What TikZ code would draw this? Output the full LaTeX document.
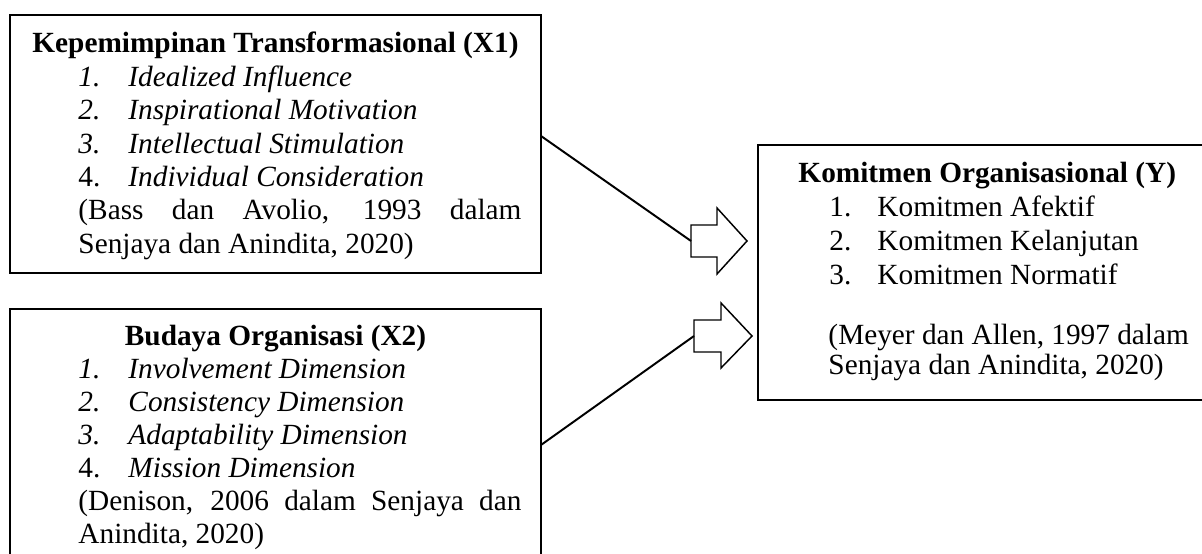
\documentclass[tikz,border=0pt]{standalone}
\usepackage{fontspec}
\setmainfont{Liberation Serif}
\usetikzlibrary{fit}
\begin{document}
\begin{tikzpicture}[x=0.4096pt,y=-0.4096pt,
  boxst/.style={draw, line width=0.8pt, inner sep=0pt},
  txt/.style={inner sep=0pt, anchor=base west, font=\fontsize{12}{13.8}\selectfont},
  ttl/.style={inner sep=0pt, anchor=base, font=\fontsize{12}{13.8}\selectfont\bfseries},
  conn/.style={line width=0.8pt},
  barrow/.style={draw, line width=0.6pt, fill=white, line join=miter}]
\useasboundingbox (0,0) rectangle (1202,554);

% boxes
\node[boxst, fit={(10,15) (541,273)}] (b1) {};
\node[boxst, fit={(10,309) (541,600)}] (b2) {};
\node[boxst, fit={(758,145) (1230,400)}] (b3) {};

% box 1 text
\node[ttl] (t1h) at (275.5,53) {Kepemimpinan Transformasional (X1)};
\node[txt] (n11) at (78,86.4) {\textit{1.}};
\node[txt] (i11) at (128,86.4) {\textit{Idealized Influence}};
\node[txt] (n12) at (78,119.8) {\textit{2.}};
\node[txt] (i12) at (128,119.8) {\textit{Inspirational Motivation}};
\node[txt] (n13) at (78,153.2) {\textit{3.}};
\node[txt] (i13) at (128,153.2) {\textit{Intellectual Stimulation}};
\node[txt] (n14) at (78,186.6) {4.};
\node[txt] (i14) at (128,186.6) {\textit{Individual Consideration}};
\node[txt] (r11) at (78,220) {\makebox[181.45pt][s]{(Bass dan Avolio, 1993 dalam}};
\node[txt] (r12) at (78,253.4) {Senjaya dan Anindita, 2020)};

% box 2 text
\node[ttl] (t2h) at (275.5,346) {Budaya Organisasi (X2)};
\node[txt] (n21) at (78,379) {\textit{1.}};
\node[txt] (i21) at (128,379) {\textit{Involvement Dimension}};
\node[txt] (n22) at (78,412) {\textit{2.}};
\node[txt] (i22) at (128,412) {\textit{Consistency Dimension}};
\node[txt] (n23) at (78,445) {\textit{3.}};
\node[txt] (i23) at (128,445) {\textit{Adaptability Dimension}};
\node[txt] (n24) at (78,478) {4.};
\node[txt] (i24) at (128,478) {\textit{Mission Dimension}};
\node[txt] (r21) at (78,511) {\makebox[181.45pt][s]{(Denison, 2006 dalam Senjaya dan}};
\node[txt] (r22) at (78,544) {Anindita, 2020)};

% box 3 text
\node[txt, font=\fontsize{12}{13.8}\selectfont\bfseries] (t3h) at (798,183) {Komitmen Organisasional (Y)};
\node[txt] (n31) at (829,217) {1.};
\node[txt] (i31) at (877,217) {Komitmen Afektif};
\node[txt] (n32) at (829,250.7) {2.};
\node[txt] (i32) at (877,250.7) {Komitmen Kelanjutan};
\node[txt] (n33) at (829,284.4) {3.};
\node[txt] (i33) at (877,284.4) {Komitmen Normatif};
\node[txt] (r31) at (828,345) {(Meyer dan Allen, 1997 dalam};
\node[txt] (r32) at (828,375) {Senjaya dan Anindita, 2020)};

% block arrows
\draw[barrow] (691,225) -- (717,225) -- (717,208) -- (747,241) -- (717,274) -- (717,257) -- (691,257) -- cycle;
\coordinate (a1) at (691,241);
\draw[barrow] (694,320) -- (721,320) -- (721,303) -- (752,336) -- (721,368) -- (721,352) -- (694,352) -- cycle;
\coordinate (a2) at (694,336);

% connectors
\coordinate (s1) at (541,136);
\coordinate (s2) at (541,445);
\draw[conn] (s1) -- (a1);
\draw[conn] (s2) -- (a2);
\end{tikzpicture}
\end{document}
